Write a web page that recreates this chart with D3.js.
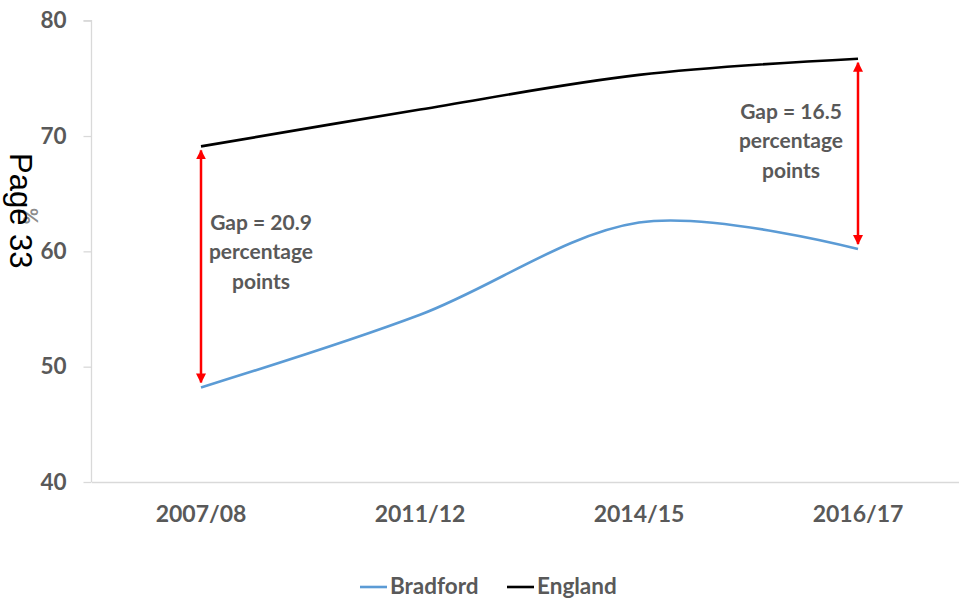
<!DOCTYPE html>
<html>
<head>
<meta charset="utf-8">
<script src="https://cdn.jsdelivr.net/npm/d3@7"></script>
<style>
  html, body { margin: 0; padding: 0; background: #fff; }
  svg { display: block; }
</style>
</head>
<body>
<script>
// Attainment (%) for Bradford and England
const years = ["2007/08", "2011/12", "2014/15", "2016/17"];
const bradford = [48.2, 54.5, 62.5, 60.2];
const england = [69.1, 72.3, 75.3, 76.7];
const yTicks = [40, 50, 60, 70, 80];
const gapLabels = [
  { idx: 0, lines: ["Gap = 20.9", "percentage", "points"], dx: 60, dy: 0 },
  { idx: 3, lines: ["Gap = 16.5", "percentage", "points"], dx: -67, dy: 2 }
];

const W = 959, H = 600;
const grey = "#595959";
const font = "Lato, 'Open Sans', sans-serif";

const svg = d3.select("body").append("svg").attr("width", W).attr("height", H);

const defs = svg.append("defs");
defs.append("marker")
  .attr("id", "arrow")
  .attr("viewBox", "0 0 10 10")
  .attr("refX", 9).attr("refY", 5)
  .attr("markerWidth", 4).attr("markerHeight", 4)
  .attr("markerUnits", "strokeWidth")
  .attr("orient", "auto-start-reverse")
  .append("path").attr("d", "M0,0 L10,5 L0,10 Z").attr("fill", "#ff0000");

const x = d3.scaleBand().domain(years).range([91.5, 967.5]);
const y = d3.scaleLinear().domain([40, 80]).range([482, 20.7]);
const cx = d => x(d) + x.bandwidth() / 2;

// Y axis
const yAxis = svg.append("g").attr("transform", "translate(91.5,0)")
  .call(d3.axisLeft(y).tickValues(yTicks).tickSize(8).tickPadding(17).tickFormat(d3.format("d")));
yAxis.select(".domain").attr("stroke", "#d9d9d9").attr("stroke-width", 1.3).attr("d", `M-8,${y(80)}H0V${y(40)}`);
yAxis.selectAll(".tick line").attr("stroke", "#d9d9d9").attr("stroke-width", 1.3);
yAxis.selectAll(".tick text").attr("fill", grey).attr("font-family", font)
  .attr("font-weight", "bold").attr("font-size", 22.5);

// X axis
const xAxis = svg.append("g").attr("transform", `translate(0,${y(40)})`)
  .call(d3.axisBottom(x).tickSize(0).tickPadding(24));
xAxis.select(".domain").attr("stroke", "#d9d9d9").attr("stroke-width", 1.3);
xAxis.selectAll(".tick text").attr("fill", grey).attr("font-family", font)
  .attr("font-weight", "bold").attr("font-size", 23);

// Axis title
svg.append("text")
  .attr("transform", "translate(38,216) rotate(-90)")
  .attr("text-anchor", "middle")
  .attr("fill", "#8c8c8c").attr("font-family", font).attr("font-weight", "bold").attr("font-size", 20)
  .text("%");

// Lines
const line = d3.line()
  .x((d, i) => cx(years[i]))
  .y(d => y(d))
  .curve(d3.curveCardinal.tension(0));

svg.append("path").datum(england)
  .attr("d", line).attr("fill", "none").attr("stroke", "#000").attr("stroke-width", 2.6);
svg.append("path").datum(bradford)
  .attr("d", line).attr("fill", "none").attr("stroke", "#5b9bd5").attr("stroke-width", 2.6);

// Gap arrows and labels
gapLabels.forEach(g => {
  const px = cx(years[g.idx]);
  const yTop = y(england[g.idx]) + 4;
  const yBot = y(bradford[g.idx]) - 5;
  svg.append("line")
    .attr("x1", px).attr("x2", px).attr("y1", yTop).attr("y2", yBot)
    .attr("stroke", "#ff0000").attr("stroke-width", 2.5)
    .attr("marker-start", "url(#arrow)").attr("marker-end", "url(#arrow)");
  const mid = (y(england[g.idx]) + y(bradford[g.idx])) / 2 + g.dy;
  const t = svg.append("text")
    .attr("text-anchor", "middle").attr("fill", grey)
    .attr("font-family", font).attr("font-weight", "bold").attr("font-size", 21);
  g.lines.forEach((l, i) => {
    t.append("tspan").attr("x", px + g.dx).attr("y", mid - 37 + i * 29.5).text(l);
  });
});

// Legend
const legend = [
  { name: "Bradford", color: "#5b9bd5", x0: 360 },
  { name: "England", color: "#000", x0: 507 }
];
legend.forEach(l => {
  svg.append("line").attr("x1", l.x0).attr("x2", l.x0 + 27).attr("y1", 587).attr("y2", 587)
    .attr("stroke", l.color).attr("stroke-width", 2.6);
  svg.append("text").attr("x", l.x0 + 30).attr("y", 594)
    .attr("fill", grey).attr("font-family", font).attr("font-weight", "bold").attr("font-size", 22.5)
    .text(l.name);
});

// Page marker
svg.append("text")
  .attr("transform", "translate(10,153) rotate(90)")
  .attr("fill", "#000").attr("font-family", "'Liberation Sans', Arial, sans-serif").attr("font-size", 31)
  .text("Page 33");
</script>
</body>
</html>
